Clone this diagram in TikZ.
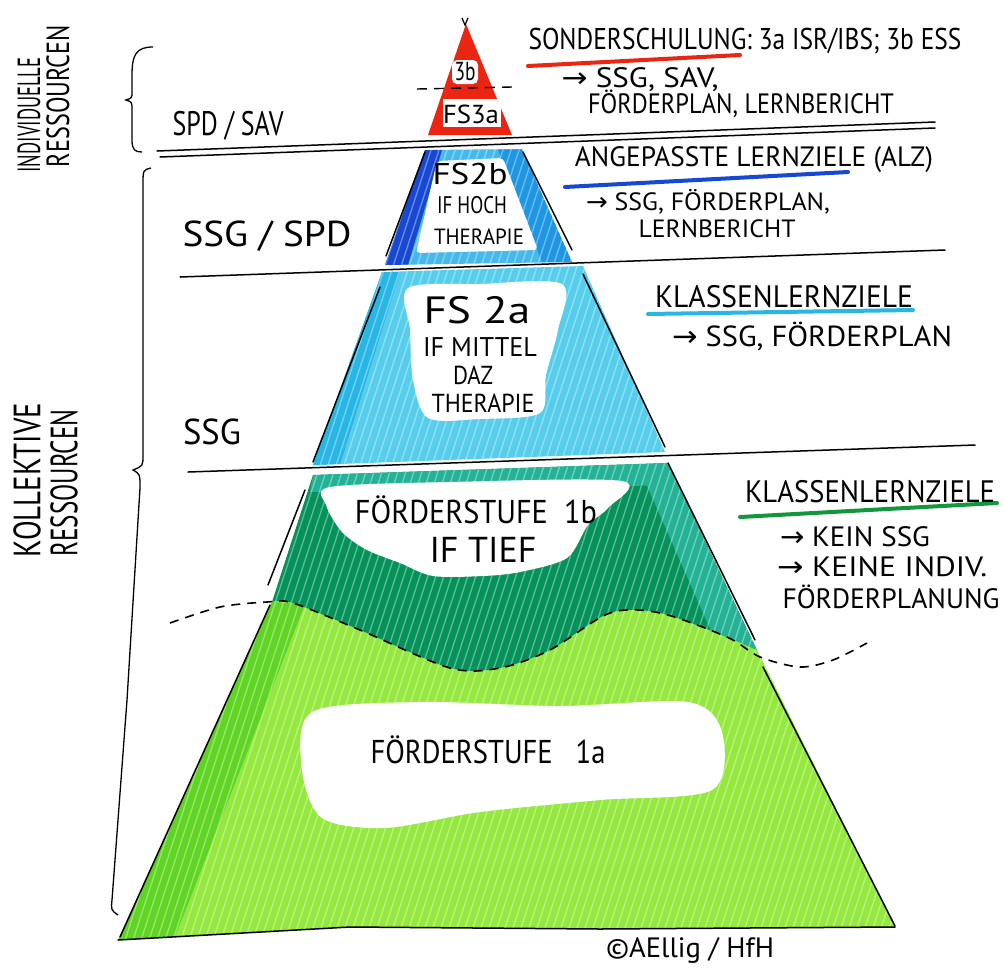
\documentclass[tikz,border=0pt]{standalone}
\usepackage{fontspec}
\setmainfont{PT Sans}
\newfontfamily\arrf{DejaVu Sans}
\usepackage{graphicx}
\newcommand\hw[2]{\resizebox{#1}{\height}{#2}}
\newcommand\arw{{\arrf →}}
\definecolor{redc}{RGB}{234,38,18}
\definecolor{bluedark}{RGB}{22,72,210}
\definecolor{bluemid}{RGB}{30,150,225}
\definecolor{bluelight}{RGB}{70,185,235}
\definecolor{cyanc}{RGB}{85,205,235}
\definecolor{cyandark}{RGB}{40,182,228}
\definecolor{dgreen}{RGB}{5,145,90}
\definecolor{tealc}{RGB}{35,178,150}
\definecolor{lgreen}{RGB}{148,232,62}
\definecolor{mgreen}{RGB}{95,212,35}
\definecolor{ulgreen}{RGB}{20,150,60}
\tikzset{
  txt/.style={inner sep=0pt, font=\fontsize{#1}{#1}\selectfont},
  blk/.style={line width=1.5pt, black, line cap=round},
  hatchline/.style={white, opacity=0.35, line width=1.4pt},
}
\newcommand\hatch{\foreach \hx in {-320,-312,...,1000} {\draw[hatchline] (\hx,980) -- (\hx+320,0);}}
\newcommand\lgpath{(272,602) -- plot[smooth] coordinates {(272,602) (293,603) (360,630) (450,668) (500,668) (550,650) (610,613) (660,613) (727,637) (757,650)} -- (895,927) -- (600,929) -- (350,927) -- (118,940) -- cycle}
\newcommand\dgpath{(272,602) -- (313,475) -- (668,463) -- (757,650) -- plot[smooth] coordinates {(757,650) (727,637) (660,613) (610,613) (550,650) (500,668) (450,668) (360,630) (293,603) (272,602)} -- cycle}
\newcommand\cypath{(382,272) -- (583,266) -- (665,452) -- (313,465) -- cycle}
\newcommand\blpath{(425,150) -- (522,149) -- (572,262) -- (385,265) -- cycle}
\begin{document}
\begin{tikzpicture}[x=1pt,y=-1pt]
\useasboundingbox (0,0) rectangle (1003,978);
\fill[white] (0,0) rectangle (1003,978);

% ---- light green band (1a)
\fill[lgreen] \lgpath;
\begin{scope}
  \clip \lgpath;
  \fill[mgreen] (272,602) -- (305,604) -- (175,937) -- (118,940) -- cycle;
  \hatch
\end{scope}
\fill[white] plot[smooth cycle] coordinates {(312,712) (420,702) (560,706) (688,702) (722,732) (712,790) (600,800) (480,812) (385,828) (322,818) (302,770)};

% ---- dark green band (1b)
\fill[dgreen] \dgpath;
\begin{scope}
  \clip \dgpath;
  \fill[tealc] (313,475) -- (668,463) -- (678,485) -- (310,492) -- cycle;
  \fill[tealc] (668,463) -- (757,650) -- (715,640) -- (640,470) -- cycle;
  \hatch
\end{scope}
\fill[white] plot[smooth cycle] coordinates {(330,487) (450,482) (622,481) (608,508) (588,525) (567,558) (520,572) (483,576) (433,576) (400,563) (367,550) (342,532) (326,505)};

% ---- cyan band (2a)
\fill[cyanc] \cypath;
\begin{scope}
  \clip \cypath;
  \fill[cyandark] (382,272) -- (400,272) -- (340,465) -- (313,465) -- cycle;
  \hatch
\end{scope}
\fill[white] plot[smooth cycle] coordinates {(408,288) (480,284) (562,284) (558,330) (546,375) (540,413) (480,419) (428,418) (413,380) (410,330)};

% ---- blue band (2b)
\fill[bluelight] \blpath;
\begin{scope}
  \clip \blpath;
  \fill[bluedark] (425,150) -- (442,150) -- (408,265) -- (385,265) -- cycle;
  \fill[bluemid] (498,150) -- (522,149) -- (572,262) -- (542,262) -- cycle;
  \hatch
\end{scope}
\fill[white, rounded corners=4pt] (437,161) -- (503,158) -- (538,250) -- (416,253) -- cycle;

% ---- red top (3a/3b)
\fill[redc] (466,24) -- (512,135) -- (428,135) -- cycle;
\fill[white, rounded corners=5pt] (452,60) rectangle (478,84);
\fill[white] (443,99) rectangle (501,127);
\draw[line width=1.2pt] (462,18) -- (465,25) -- (468,18);
\draw[line width=1.4pt, dash pattern=on 10pt off 7pt] (417,89) -- (512,87);

% ---- black pyramid edges
\draw[blk] (425,152) -- (386,256);
\draw[blk] (523,152) -- (572,250);
\draw[blk] (380,287) -- (313,462);
\draw[blk] (583,274) -- (665,447);
\draw[blk] (305,490) -- (268,585);
\draw[blk] (668,463) -- (755,640);
\draw[blk] (270,605) -- (120,937);
\draw[blk] (763,667) -- (895,926);

% ---- horizontal level lines
\draw[blk] (157,151) -- (935,122);
\draw[blk] (160,157) -- (935,128);
\draw[blk] (180,277) -- (945,250);
\draw[blk] (188,472) -- (975,445);
\draw[blk] (118,940) -- (350,927) -- (600,929) -- (895,927);

% ---- dashed wave
\draw[line width=1.6pt, dash pattern=on 9pt off 7pt] plot[smooth] coordinates {(170,623) (220,607) (267,602) (293,603) (360,630) (450,668) (500,668) (550,650) (610,613) (660,613) (727,637) (760,657) (800,667) (833,660) (867,643)};

% ---- braces
\draw[line width=1.3pt] (153,47) .. controls (136,47) and (132,55) .. (132,75) -- (132,92) .. controls (132,98) .. (126,100) .. controls (132,102) .. (132,110) -- (132,140) .. controls (132,150) and (135,152) .. (142,152);
\draw[line width=1.3pt] (151,168) .. controls (143,170) .. (143,185) -- (143,455) .. controls (143,466) .. (133,470) .. controls (140,474) .. (140,488) -- (127,700) -- (112,900) .. controls (111,910) .. (118,915);

% ---- underlines
\draw[redc, line width=4pt, line cap=round] (528,66) -- (740,55);
\draw[bluedark, line width=4pt, line cap=round] (565,187) -- (848,172);
\draw[cyandark, line width=4pt, line cap=round] (648,314) -- (913,310);
\draw[ulgreen, line width=4pt, line cap=round] (740,517) -- (997,503);

% ---- right texts
\node[txt=30] (sonder) at (745,41) {\hw{433pt}{SONDERSCHULUNG: 3a ISR/IBS; 3b ESS}};
\node[txt=28] (sonder2) at (640,80) {\hw{157pt}{\arw\ SSG, SAV,}};
\node[txt=28] (sonder3) at (741,104) {\hw{306pt}{FÖRDERPLAN, LERNBERICHT}};
\node[txt=28] (alz) at (754,160) {\hw{358pt}{ANGEPASSTE LERNZIELE (ALZ)}};
\node[txt=25] (alz2) at (708,202) {\hw{244pt}{\arw\ SSG, FÖRDERPLAN,}};
\node[txt=25] (alz3) at (717,229) {\hw{157pt}{LERNBERICHT}};
\node[txt=31] (kl1) at (784,297) {\hw{258pt}{KLASSENLERNZIELE}};
\node[txt=29] (kl1b) at (812,336) {\hw{280pt}{\arw\ SSG, FÖRDERPLAN}};
\node[txt=31] (kl2) at (870,492) {\hw{250pt}{KLASSENLERNZIELE}};
\node[txt=28] (kl2b) at (855,537) {\hw{150pt}{\arw\ KEIN SSG}};
\node[txt=28] (kl2c) at (882,567) {\hw{210pt}{\arw\ KEINE INDIV.}};
\node[txt=28] (kl2d) at (891,597) {\hw{217pt}{FÖRDERPLANUNG}};

% ---- pyramid texts
\node[txt=26] (t3b) at (465,72) {\hw{21pt}{3b}};
\node[txt=26] (t3a) at (471,114) {\hw{56pt}{FS3a}};
\node[txt=30] (t2b) at (470,174) {\hw{75pt}{FS2b}};
\node[txt=24] (t2b1) at (472,205) {\hw{70pt}{IF HOCH}};
\node[txt=22] (t2b2) at (479,237) {\hw{90pt}{THERAPIE}};
\node[txt=38] (t2a) at (477,310) {\hw{107pt}{FS 2a}};
\node[txt=27] (t2a1) at (480,347) {\hw{114pt}{IF MITTEL}};
\node[txt=26] (t2a2) at (473,375) {\hw{40pt}{DAZ}};
\node[txt=26] (t2a3) at (483,403) {\hw{103pt}{THERAPIE}};
\node[txt=33] (t1b) at (476,510) {\hw{242pt}{FÖRDERSTUFE\ \ 1b}};
\node[txt=36] (t1b1) at (483,550) {\hw{107pt}{IF TIEF}};
\node[txt=33] (t1a) at (488,750) {\hw{235pt}{FÖRDERSTUFE\ \ \ 1a}};
\node[txt=28] (copy) at (690,950) {\hw{168pt}{©AEllig / HfH}};

% ---- left texts
\node[txt=34] (spdsav) at (228,126) {\hw{111pt}{SPD / SAV}};
\node[txt=36] (ssgspd) at (267,236) {\hw{169pt}{SSG / SPD}};
\node[txt=36] (ssg) at (212,432) {\hw{58pt}{SSG}};
\node[txt=32, rotate=90] (ind1) at (29,115) {\hw{115pt}{INDIVIDUELLE}};
\node[txt=32, rotate=90] (ind2) at (58,96) {\hw{142pt}{RESSOURCEN}};
\node[txt=38, rotate=90] (kol1) at (27,480) {\hw{154pt}{KOLLEKTIVE}};
\node[txt=38, rotate=90] (kol2) at (64,483) {\hw{147pt}{RESSOURCEN}};
\end{tikzpicture}
\end{document}
